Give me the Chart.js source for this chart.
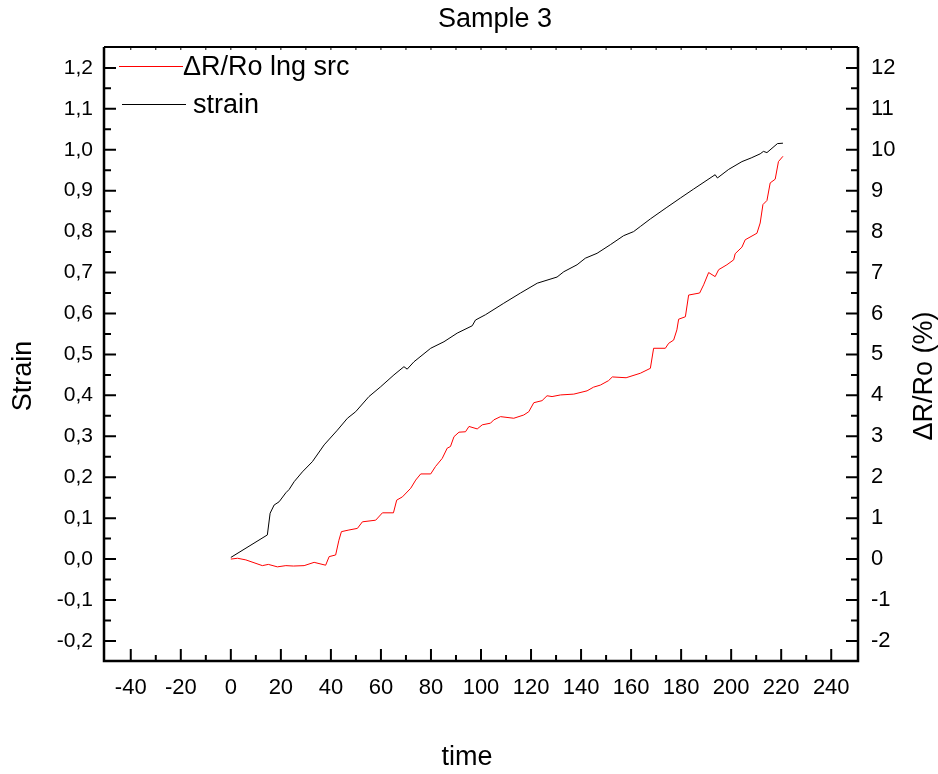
<!DOCTYPE html>
<html>
<head>
<meta charset="utf-8">
<script src="https://cdn.jsdelivr.net/npm/chart.js@4/dist/chart.umd.min.js"></script>
<style>
  html, body { margin: 0; padding: 0; background: #fff; }
  canvas { display: block; }
</style>
</head>
<body>
<canvas id="c" width="938" height="774"></canvas>
<script>
// ---- data ----
const chartTitle = "Sample 3";
const xTitle = "time";
const yLeftTitle = "Strain";
const yRightTitle = "\u0394R/Ro (%)";
const redLabel = "\u0394R/Ro lng src";
const blackLabel = "strain";

const strainTime = [0, 14.6, 15.7, 17.3, 19.3, 22, 23.3, 25.3, 28.6, 32.6, 37.3, 42.6, 46.6, 49.9, 55.2, 59.9,
  65.2, 69.2, 70.5, 73.2, 79.9, 85.2, 90.5, 96.5, 97.8, 101.8, 109.1, 115.8, 122.5, 130.4, 133.1, 138.4,
  141.7, 146.4, 151.7, 157, 161, 163.7, 167.7, 174, 179.7, 185, 193.6, 194.5, 199, 204.3, 208, 211.6,
  212.9, 214.3, 218.5, 220.7];
const strainValue = [0.004, 0.059, 0.112, 0.132, 0.140, 0.162, 0.170, 0.189, 0.213, 0.238, 0.279, 0.315, 0.344, 0.360, 0.397, 0.421,
  0.450, 0.470, 0.464, 0.482, 0.515, 0.531, 0.552, 0.570, 0.584, 0.597, 0.625, 0.650, 0.674, 0.689, 0.702, 0.719,
  0.735, 0.747, 0.768, 0.790, 0.800, 0.8125, 0.831, 0.858, 0.882, 0.904, 0.939, 0.931, 0.952, 0.971, 0.980, 0.990,
  0.996, 0.993, 1.015, 1.016];

const drTime = [0, 2.7, 6, 12.6, 15, 18.6, 22, 25, 29.3, 33.3, 37.9, 39.3, 41.9, 43.2, 44.2, 47.2, 50.6, 52.6,
  57.9, 60.6, 65, 66.3, 68.6, 71.9, 73.9, 75.9, 79.9, 81.8, 84.5, 86.5, 87.8, 89.2, 91.2, 93.8, 95.2, 98.5,
  100.5, 103.8, 105.1, 107.8, 113.1, 117.1, 119.1, 121.1, 124.4, 126.4, 128.4, 131.8, 137.1, 142.4, 145,
  147.7, 151, 152.5, 158, 163.7, 167.7, 169, 173.7, 175, 177, 178.3, 179, 181.7, 183, 187.4, 189, 191,
  193.6, 195, 198.3, 201, 201.6, 204.3, 205.6, 210.3, 211.6, 212.7, 214.3, 215.6, 217.6, 218.9, 220.7];
const drValue = [0, 0.02, -0.02, -0.16, -0.13, -0.19, -0.16, -0.17, -0.16, -0.08, -0.15, 0.06, 0.10, 0.46, 0.67, 0.71, 0.75, 0.91,
  0.95, 1.13, 1.13, 1.44, 1.52, 1.73, 1.93, 2.08, 2.08, 2.26, 2.46, 2.71, 2.75, 2.99, 3.10, 3.11, 3.24, 3.18,
  3.28, 3.32, 3.40, 3.48, 3.44, 3.52, 3.60, 3.82, 3.87, 3.99, 3.97, 4.01, 4.03, 4.11, 4.20,
  4.25, 4.36, 4.45, 4.43, 4.54, 4.66, 5.15, 5.15, 5.27, 5.35, 5.60, 5.86, 5.92, 6.45, 6.50, 6.70, 7.00,
  6.90, 7.07, 7.19, 7.31, 7.46, 7.62, 7.80, 7.96, 8.21, 8.66, 8.76, 9.19, 9.28, 9.71, 9.84];

const xTicks = [-40, -20, 0, 20, 40, 60, 80, 100, 120, 140, 160, 180, 200, 220, 240];
const yLeftTicks = [-0.2, -0.1, 0, 0.1, 0.2, 0.3, 0.4, 0.5, 0.6, 0.7, 0.8, 0.9, 1.0, 1.1, 1.2];
const yRightTicks = [-2, -1, 0, 1, 2, 3, 4, 5, 6, 7, 8, 9, 10, 11, 12];

// ---- chart ----
const FONT = "'Liberation Sans', Arial, sans-serif";
const strainData = strainTime.map((t, i) => ({ x: t, y: strainValue[i] }));
const drData = drTime.map((t, i) => ({ x: t, y: drValue[i] }));

const decoPlugin = {
  id: 'deco',
  afterDraw(chart) {
    const ctx = chart.ctx;
    const a = chart.chartArea;
    const xs = chart.scales.x, yl = chart.scales.y, yr = chart.scales.y1;
    ctx.save();
    ctx.strokeStyle = '#000';
    // frame
    ctx.lineWidth = 2.5;
    ctx.beginPath();
    ctx.moveTo(a.left, a.top); ctx.lineTo(a.left, a.bottom); ctx.lineTo(a.right, a.bottom); ctx.lineTo(a.right, a.top);
    ctx.stroke();
    ctx.lineWidth = 2;
    ctx.beginPath(); ctx.moveTo(a.left, a.top); ctx.lineTo(a.right, a.top); ctx.stroke();
    // ticks
    ctx.lineWidth = 2;
    ctx.beginPath();
    xTicks.forEach(v => { const p = xs.getPixelForValue(v); ctx.moveTo(p, a.bottom); ctx.lineTo(p, a.bottom - 12); });
    xTicks.forEach(v => { const p = xs.getPixelForValue(v + 10); if (p < a.right - 3) { ctx.moveTo(p, a.bottom); ctx.lineTo(p, a.bottom - 6); } });
    { const p = xs.getPixelForValue(xTicks[0] - 10); if (p > a.left + 3) { ctx.moveTo(p, a.bottom); ctx.lineTo(p, a.bottom - 6); } }
    yLeftTicks.forEach(v => { const p = yl.getPixelForValue(v); ctx.moveTo(a.left, p); ctx.lineTo(a.left + 12, p); });
    yLeftTicks.slice(0, -1).forEach(v => { const p = yl.getPixelForValue(v + 0.05); ctx.moveTo(a.left, p); ctx.lineTo(a.left + 7, p); });
    yRightTicks.forEach(v => { const p = yr.getPixelForValue(v); ctx.moveTo(a.right, p); ctx.lineTo(a.right - 12, p); });
    yRightTicks.slice(0, -1).forEach(v => { const p = yr.getPixelForValue(v + 0.5); ctx.moveTo(a.right, p); ctx.lineTo(a.right - 7, p); });
    ctx.stroke();
    ctx.lineWidth = 1;
    ctx.beginPath();
    for (let v = -50; v <= 250; v += 10) { const p = xs.getPixelForValue(v); if (p > a.left + 3 && p < a.right - 3) { ctx.moveTo(p, a.top); ctx.lineTo(p, a.top + 3); } }
    ctx.stroke();

    // titles
    ctx.fillStyle = '#000';
    ctx.textAlign = 'center';
    ctx.textBaseline = 'middle';
    ctx.font = '27px ' + FONT;
    ctx.fillText(chartTitle, 495, 20);
    ctx.fillText(xTitle, 467, 758);
    ctx.save(); ctx.translate(24, 376); ctx.rotate(-Math.PI / 2); ctx.fillText(yLeftTitle, 0, 0); ctx.restore();
    ctx.save(); ctx.translate(925, 376); ctx.rotate(-Math.PI / 2); ctx.fillText(yRightTitle, 0, 0); ctx.restore();

    // legend
    ctx.lineWidth = 1;
    ctx.strokeStyle = '#ff0000';
    ctx.beginPath(); ctx.moveTo(119, 66.5); ctx.lineTo(183, 66.5); ctx.stroke();
    ctx.strokeStyle = '#000';
    ctx.beginPath(); ctx.moveTo(122, 104.5); ctx.lineTo(186, 104.5); ctx.stroke();
    ctx.textAlign = 'left';
    ctx.font = '27px ' + FONT;
    ctx.fillText(redLabel, 183, 68);
    ctx.fillText(blackLabel, 193, 106);
    ctx.restore();
  }
};

new Chart(document.getElementById('c'), {
  type: 'line',
  data: {
    datasets: [
      { label: blackLabel, data: strainData, yAxisID: 'y', borderColor: '#000', borderWidth: 1, pointRadius: 0, tension: 0, fill: false },
      { label: redLabel, data: drData, yAxisID: 'y1', borderColor: '#ff0000', borderWidth: 1, pointRadius: 0, tension: 0, fill: false }
    ]
  },
  options: {
    responsive: false,
    animation: false,
    devicePixelRatio: 1,
    layout: { padding: { top: 47, left: 0, right: 0, bottom: 0 } },
    plugins: { legend: { display: false }, tooltip: { enabled: false }, title: { display: false } },
    scales: {
      x: {
        type: 'linear', min: -50.7, max: 250.7,
        grid: { display: false, drawTicks: false }, border: { display: false },
        afterBuildTicks: s => { s.ticks = xTicks.map(v => ({ value: v })); },
        afterFit: s => { s.height = 113; },
        ticks: { font: { size: 22, family: FONT }, color: '#000', padding: 14, maxRotation: 0, autoSkip: false,
          callback: v => String(v) }
      },
      y: {
        type: 'linear', position: 'left', min: -0.249, max: 1.251,
        grid: { display: false, drawTicks: false }, border: { display: false },
        afterBuildTicks: s => { s.ticks = yLeftTicks.map(v => ({ value: v })); },
        afterFit: s => { s.width = 104; },
        ticks: { font: { size: 21, family: FONT }, color: '#000', padding: 11, autoSkip: false,
          callback: v => Number(v).toFixed(1).replace('.', ',') }
      },
      y1: {
        type: 'linear', position: 'right', min: -2.49, max: 12.51,
        grid: { display: false, drawTicks: false }, border: { display: false },
        afterBuildTicks: s => { s.ticks = yRightTicks.map(v => ({ value: v })); },
        afterFit: s => { s.width = 80; },
        ticks: { font: { size: 22, family: FONT }, color: '#000', padding: 13, autoSkip: false,
          callback: v => String(Math.round(v)) }
      }
    }
  },
  plugins: [decoPlugin]
});
</script>
</body>
</html>
